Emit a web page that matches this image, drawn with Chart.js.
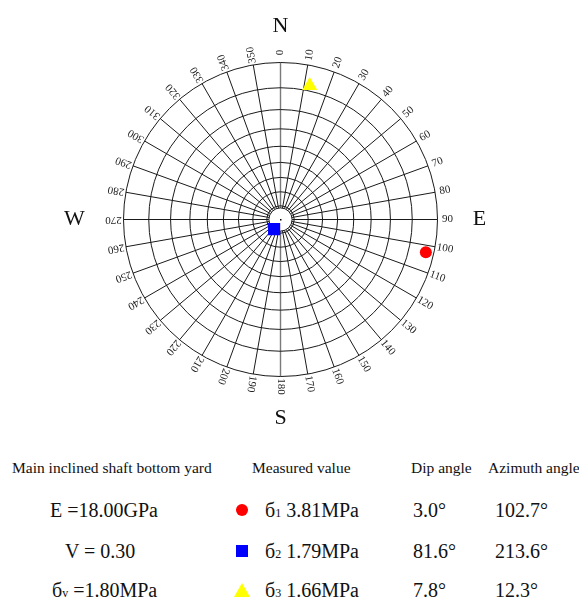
<!DOCTYPE html>
<html>
<head>
<meta charset="utf-8">
<script src="https://cdn.jsdelivr.net/npm/chart.js@4.4.1/dist/chart.umd.min.js"></script>
<style>
  html, body { margin: 0; padding: 0; background: #fff; }
  body { position: relative; width: 579px; height: 601px; overflow: hidden;
         font-family: "Liberation Serif", "Times New Roman", serif; color: #111; }
  #wrap { position: absolute; left: 0; top: 0; width: 579px; height: 440px; }
  .t { position: absolute; white-space: nowrap; line-height: 1; }
  .h { font-size: 15.5px; }
  .v { font-size: 20px; }
  .sub { font-size: 12px; }
  .mk { position: absolute; }
</style>
</head>
<body>
<div id="wrap"><canvas id="net" width="579" height="440"></canvas></div>
<div id="table"></div>
<script>
// Principal stresses: magnitude, dip and azimuth
const stressLabels = ['1', '2', '3'];
const stressValues = [3.81, 1.79, 1.66];
const dipAngles = [3.0, 81.6, 7.8];
const azimuthAngles = [102.7, 213.6, 12.3];
const markerColors = ['#ff0000', '#0000ff', '#ffff00'];
const markerStyles = ['circle', 'rect', 'triangle'];

// Stereonet grid: dip circles and azimuth spokes / tick labels
const ringDips = [10, 20, 30, 40, 50, 60, 70, 80];
const azimuthTicks = [0, 10, 20, 30, 40, 50, 60, 70, 80, 90, 100, 110, 120, 130, 140, 150, 160, 170,
                      180, 190, 200, 210, 220, 230, 240, 250, 260, 270, 280, 290, 300, 310, 320, 330, 340, 350];
const compassLabels = ['N', 'E', 'S', 'W'];

// Site parameters
const siteName = 'Main inclined shaft bottom yard';
const elasticModulus = '18.00GPa';
const poissonRatio = '0.30';
const verticalStress = '1.80MPa';

const rad = d => d * Math.PI / 180;
// equal-angle (stereographic) lower-hemisphere projection, unit radius
const projR = dip => Math.tan(rad((90 - dip) / 2));
const toXY = (az, dip) => ({ x: projR(dip) * Math.sin(rad(az)), y: projR(dip) * Math.cos(rad(az)) });

const SERIF = '"Liberation Serif", "Times New Roman", serif';

const stereonetGrid = {
  id: 'stereonetGrid',
  beforeDatasetsDraw(chart) {
    const { ctx, scales: { x, y } } = chart;
    const cx = x.getPixelForValue(0), cy = y.getPixelForValue(0);
    const R = x.getPixelForValue(1) - cx;
    const hole = R * 0.074;
    ctx.save();
    // spokes
    azimuthTicks.forEach(a => {
      const s = Math.sin(rad(a)), c = Math.cos(rad(a));
      ctx.beginPath();
      ctx.strokeStyle = (a % 180 === 0) ? '#7a7a7a' : '#1a1a1a';
      ctx.lineWidth = (a % 180 === 0) ? 1.4 : 1;
      ctx.moveTo(cx + hole * s, cy - hole * c);
      ctx.lineTo(cx + R * s, cy - R * c);
      ctx.stroke();
    });
    ctx.strokeStyle = '#1a1a1a';
    ctx.lineWidth = 1;
    // dip circles
    [0].concat(ringDips).forEach(d => {
      ctx.beginPath();
      ctx.arc(cx, cy, R * projR(d), 0, Math.PI * 2);
      ctx.stroke();
    });
    // central hole
    ctx.beginPath();
    ctx.fillStyle = '#fff';
    ctx.arc(cx, cy, hole, 0, Math.PI * 2);
    ctx.fill();
    ctx.stroke();
    ctx.fillStyle = '#000';
    ctx.fillRect(Math.round(cx) - 1, Math.round(cy) - 1, 1.5, 1.5);
    // azimuth labels
    ctx.fillStyle = '#222';
    ctx.font = '11px ' + SERIF;
    ctx.textAlign = 'center';
    ctx.textBaseline = 'middle';
    azimuthTicks.forEach(a => {
      const lr = R + 10;
      ctx.save();
      ctx.translate(cx + lr * Math.sin(rad(a)), cy - lr * Math.cos(rad(a)));
      ctx.rotate(rad(a - 90));
      ctx.fillText(String(a), 0, 0);
      ctx.restore();
    });
    // compass letters
    ctx.fillStyle = '#111';
    ctx.font = '22px ' + SERIF;
    const off = [R + 36, R + 42, R + 42, R + 49];
    compassLabels.forEach((t, i) => {
      const a = i * 90;
      ctx.fillText(t, cx + off[i] * Math.sin(rad(a)), cy - off[i] * Math.cos(rad(a)));
    });
    ctx.restore();
  }
};

const datasets = stressValues.map((v, i) => ({
  label: 'б' + stressLabels[i] + ' ' + v.toFixed(2) + 'MPa',
  data: [toXY(azimuthAngles[i], dipAngles[i])],
  pointStyle: markerStyles[i],
  pointRadius: [6, 8.6, 8.7][i],
  backgroundColor: markerColors[i],
  borderColor: markerColors[i],
  borderWidth: 0
}));

new Chart(document.getElementById('net'), {
  type: 'scatter',
  data: { datasets },
  options: {
    responsive: false,
    animation: false,
    layout: { padding: { left: 123.5, right: 141.5, top: 62.5, bottom: 63.5 } },
    scales: {
      x: { type: 'linear', min: -1, max: 1, display: false },
      y: { type: 'linear', min: -1, max: 1, display: false }
    },
    plugins: { legend: { display: false }, tooltip: { enabled: false } }
  },
  plugins: [stereonetGrid]
});

// Parameter table below the net
const table = document.getElementById('table');
function put(html, cls, left, cy, size) {
  const el = document.createElement('div');
  el.className = 't ' + cls;
  el.style.left = left + 'px';
  el.style.top = (cy - size / 2) + 'px';
  el.innerHTML = html;
  table.appendChild(el);
}
put(siteName, 'h', 12, 468, 15.5);
put('Measured value', 'h', 252, 468, 15.5);
put('Dip angle', 'h', 411, 468, 15.5);
put('Azimuth angle', 'h', 488, 468, 15.5);

const rowY = [510, 551, 590];
const leftCol = [
  ['E =' + elasticModulus, 50],
  ['V = ' + poissonRatio, 65],
  ['б<span class="sub">v</span> =' + verticalStress, 52]
];
rowY.forEach((yy, i) => {
  put(leftCol[i][0], 'v', leftCol[i][1], yy, 20);
  put('б<span class="sub">' + stressLabels[i] + '</span> ' + stressValues[i].toFixed(2) + 'MPa', 'v', 265, yy, 20);
  put(dipAngles[i].toFixed(1) + '°', 'v', 413, yy, 20);
  put(azimuthAngles[i].toFixed(1) + '°', 'v', 495, yy, 20);
  const mk = document.createElement('div');
  mk.className = 'mk';
  if (markerStyles[i] === 'circle') {
    Object.assign(mk.style, { left: '236px', top: (yy - 6) + 'px', width: '12px', height: '12px', borderRadius: '50%', background: markerColors[i] });
  } else if (markerStyles[i] === 'rect') {
    Object.assign(mk.style, { left: '236px', top: (yy - 6) + 'px', width: '12px', height: '12px', background: markerColors[i] });
  } else {
    Object.assign(mk.style, { left: '234px', top: (yy - 7) + 'px', width: '0', height: '0',
      borderLeft: '8px solid transparent', borderRight: '8px solid transparent', borderBottom: '14px solid ' + markerColors[i] });
  }
  table.appendChild(mk);
});
</script>
</body>
</html>
